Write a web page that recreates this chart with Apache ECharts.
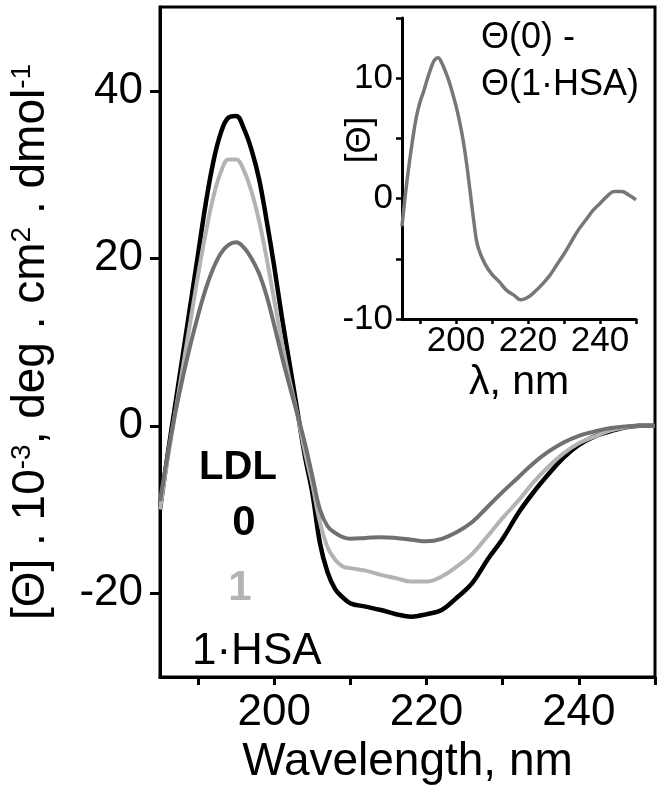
<!DOCTYPE html>
<html>
<head>
<meta charset="utf-8">
<script src="https://cdn.jsdelivr.net/npm/echarts@6/dist/echarts.min.js"></script>
<style>
  html, body { margin: 0; padding: 0; background: #fff; }
  #chart { width: 664px; height: 797px; }
</style>
</head>
<body>
<div id="chart"></div>
<script>
var FONT = "'Liberation Sans', Arial, sans-serif";

// main panel: wavelength (nm) and ellipticity values (x10^-3)
var wavelength = [185, 186, 187, 188, 189, 190, 191, 192, 193, 194, 195, 196, 197, 198, 199,
    200, 201, 202, 203, 204, 205, 206, 207, 208, 209, 210, 212, 214, 216, 218, 220, 222,
    224, 226, 228, 230, 232, 234, 236, 238, 240, 242, 244, 246, 248, 250];
var ldl0 = [-10, -3.5, 2.5, 8.5, 14.5, 20.5, 26.5, 31.5, 35, 36.8, 37, 35.5, 33, 29.5, 24.5,
    19, 13, 7.5, 2, -3.5, -8, -14, -17.5, -19.5, -20.5, -21.2, -21.6, -22, -22.5, -22.8, -22.5, -22,
    -20.5, -18.8, -16, -13.5, -10.5, -8, -5.8, -3.8, -2.3, -1.3, -0.7, -0.2, 0, 0];
var ldl1 = [-10, -4, 1.5, 7, 12.5, 18, 23, 27.3, 30.3, 31.8, 31.8, 30.5, 28, 24.5, 20,
    15, 10, 5.5, 1.5, -3, -7, -11.5, -14.5, -16, -16.8, -17, -17.3, -17.8, -18.2, -18.6, -18.6, -18,
    -16.8, -15.3, -13.2, -11, -9, -6.8, -4.9, -3.3, -2.1, -1.3, -0.6, -0.2, 0, 0];
var ldl1Hsa = [-9, -3.5, 1.5, 5.8, 9.7, 13.2, 16.3, 18.8, 20.6, 21.6, 21.9, 21.3, 20, 18.2, 15.5,
    12, 8.3, 4.8, 1.5, -2, -6, -10, -12, -12.8, -13.3, -13.5, -13.4, -13.3, -13.4, -13.6, -13.8, -13.5,
    -12.7, -11.5, -9.7, -7.9, -6.2, -4.5, -3.1, -2, -1.2, -0.7, -0.3, -0.1, 0, 0];

// inset: difference spectrum Θ(0) - Θ(1·HSA)
var insetWavelength = [185, 186, 187, 188, 189, 190, 191, 192, 193, 194, 195, 196, 197, 198, 199,
    200, 201, 202, 203, 204, 205, 206, 208, 210, 212, 214, 216, 218, 220, 222, 224, 226, 228,
    230, 232, 234, 236, 238, 240, 242, 244, 246, 248, 250];
var insetDiff = [-2.3, 0.5, 2.9, 5, 6.8, 8, 8.9, 9.9, 10.8, 11.5, 11.7, 11.3, 10.6, 9.8, 8.8,
    7.7, 6.4, 4.8, 2.8, 0.4, -2, -3.9, -5.4, -6.3, -6.9, -7.6, -8, -8.4, -8.2, -7.7, -7.1, -6.4, -5.5,
    -4.6, -3.6, -2.6, -1.8, -1, -0.4, 0.2, 0.6, 0.6, 0.3, -0.1];

// tick positions
var mainXTicks = [190, 200, 210, 220, 230, 240, 250];
var mainXLabels = [200, 220, 240];
var mainYTicks = [-20, 0, 20, 40];
var insetXTicks = [190, 200, 210, 220, 230, 240, 250];
var insetXLabels = [200, 220, 240];
var insetYTicks = [-10, -5, 0, 5, 10, 15];
var insetYLabels = [-10, 0, 10];

function pairs(xs, ys) {
    return xs.map(function (x, i) { return [x, ys[i]]; });
}

var chart = echarts.init(document.getElementById('chart'));

var option = {
    animation: false,
    backgroundColor: '#fff',
    grid: [
        { left: 160, right: 9, top: 7, bottom: 120, show: true, borderColor: '#000', borderWidth: 3 },
        { left: 402, right: 28, top: 18, bottom: 478 }
    ],
    xAxis: [{
        gridIndex: 0,
        type: 'value',
        min: 185,
        max: 250,
        name: 'Wavelength, nm',
        nameLocation: 'middle',
        nameGap: 62,
        nameMoveOverlap: false,
        nameTextStyle: { fontSize: 46, color: '#000', fontFamily: FONT },
        axisLine: { onZero: false, lineStyle: { color: '#000', width: 3 } },
        axisTick: { customValues: mainXTicks, length: 8, lineStyle: { color: '#000', width: 3 } },
        axisLabel: { customValues: mainXLabels, fontSize: 44, color: '#000', fontFamily: FONT, margin: 14 },
        splitLine: { show: false }
    }, {
        gridIndex: 1,
        type: 'value',
        min: 185,
        max: 250,
        name: 'λ, nm',
        nameLocation: 'middle',
        nameGap: 43,
        nameMoveOverlap: false,
        nameTextStyle: { fontSize: 41, color: '#000', fontFamily: FONT },
        axisLine: { onZero: false, lineStyle: { color: '#000', width: 3 } },
        axisTick: { customValues: insetXTicks, length: 5, lineStyle: { color: '#000', width: 2.5 } },
        axisLabel: { customValues: insetXLabels, fontSize: 35, color: '#000', fontFamily: FONT, margin: 5 },
        splitLine: { show: false }
    }],
    yAxis: [{
        gridIndex: 0,
        type: 'value',
        min: -30,
        max: 50,
        name: '[Θ] . 10{sup|-3}, deg . cm{sup|2} . dmol{sup|-1}',
        nameLocation: 'middle',
        nameRotate: 90,
        nameGap: 106,
        nameMoveOverlap: false,
        nameTextStyle: {
            fontSize: 46, color: '#000', fontFamily: FONT,
            rich: { sup: { fontSize: 28, color: '#000', fontFamily: FONT, verticalAlign: 'top' } }
        },
        axisLine: { onZero: false, lineStyle: { color: '#000', width: 3 } },
        axisTick: { customValues: mainYTicks, length: 10, lineStyle: { color: '#000', width: 3 } },
        axisLabel: { customValues: mainYTicks, fontSize: 44, color: '#000', fontFamily: FONT, margin: 17 },
        splitLine: { show: false }
    }, {
        gridIndex: 1,
        type: 'value',
        min: -10,
        max: 15,
        name: '[Θ]',
        nameLocation: 'middle',
        nameRotate: 90,
        nameGap: 24,
        nameMoveOverlap: false,
        nameTextStyle: { fontSize: 35, color: '#000', fontFamily: FONT, padding: [0, 0, 0, 57] },
        axisLine: { onZero: false, lineStyle: { color: '#000', width: 3 } },
        axisTick: { customValues: insetYTicks, length: 6, lineStyle: { color: '#000', width: 2.5 } },
        axisLabel: { customValues: insetYLabels, fontSize: 35, color: '#000', fontFamily: FONT, margin: 9 },
        splitLine: { show: false }
    }],
    series: [{
        name: '0',
        type: 'line',
        xAxisIndex: 0,
        yAxisIndex: 0,
        data: pairs(wavelength, ldl0),
        showSymbol: false,
        smooth: 0.4,
        lineStyle: { color: '#000', width: 4.5 }
    }, {
        name: '1',
        type: 'line',
        xAxisIndex: 0,
        yAxisIndex: 0,
        data: pairs(wavelength, ldl1),
        showSymbol: false,
        smooth: 0.4,
        lineStyle: { color: '#b3b3b3', width: 4 }
    }, {
        name: '1·HSA',
        type: 'line',
        xAxisIndex: 0,
        yAxisIndex: 0,
        data: pairs(wavelength, ldl1Hsa),
        showSymbol: false,
        smooth: 0.4,
        lineStyle: { color: '#707070', width: 4 }
    }, {
        name: 'diff',
        type: 'line',
        xAxisIndex: 1,
        yAxisIndex: 1,
        data: pairs(insetWavelength, insetDiff),
        showSymbol: false,
        smooth: 0.4,
        lineStyle: { color: '#777', width: 3.5 }
    }],
    // legend-like labels and inset annotation
    graphic: [
        { type: 'text', x: 238, y: 468, style: { text: 'LDL', fontSize: 40, fontWeight: 'bold', fontFamily: FONT, fill: '#000', align: 'center', verticalAlign: 'middle' } },
        { type: 'text', x: 244, y: 523, style: { text: '0', fontSize: 42, fontWeight: 'bold', fontFamily: FONT, fill: '#000', align: 'center', verticalAlign: 'middle' } },
        { type: 'text', x: 240, y: 588, style: { text: '1', fontSize: 42, fontWeight: 'bold', fontFamily: FONT, fill: '#b3b3b3', align: 'center', verticalAlign: 'middle' } },
        { type: 'text', x: 192, y: 652, style: { text: '1·HSA', fontSize: 44, fontFamily: FONT, fill: '#000', align: 'left', verticalAlign: 'middle' } },
        { type: 'text', x: 481, y: 38, style: { text: 'Θ(0) -', fontSize: 36, fontFamily: FONT, fill: '#000', align: 'left', verticalAlign: 'middle' } },
        { type: 'text', x: 481, y: 85, style: { text: 'Θ(1·HSA)', fontSize: 36, fontFamily: FONT, fill: '#000', align: 'left', verticalAlign: 'middle' } }
    ]
};

chart.setOption(option);
</script>
</body>
</html>
